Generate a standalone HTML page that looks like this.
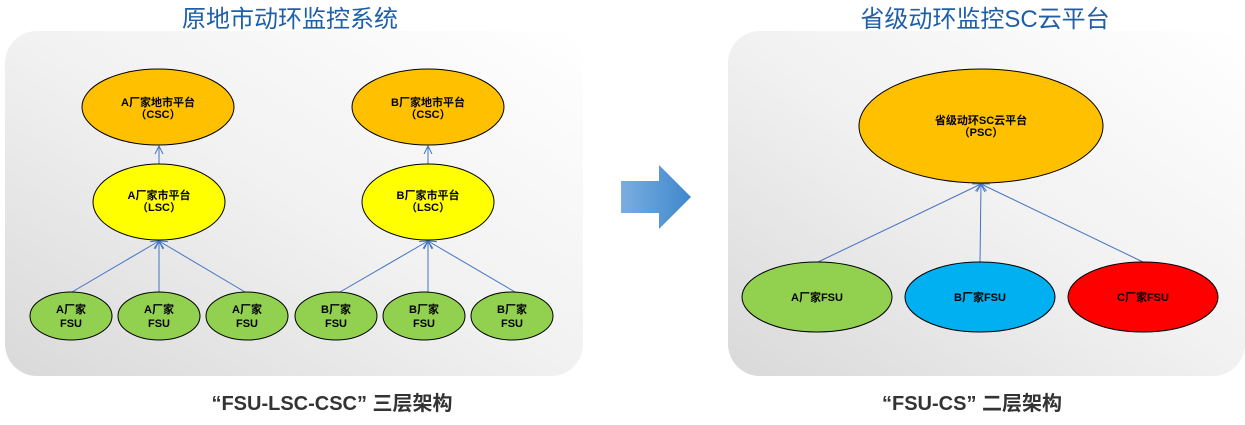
<!DOCTYPE html>
<html><head><meta charset="utf-8"><style>
body{margin:0;width:1245px;height:420px;background:#fff;overflow:hidden}
svg text{font-family:"Liberation Sans","Noto Sans CJK SC",sans-serif}
</style></head><body>
<svg width="1245" height="420" viewBox="0 0 1245 420" xmlns="http://www.w3.org/2000/svg">
<defs>
<linearGradient id="bg" x1="0" y1="1" x2="1" y2="0">
<stop offset="0" stop-color="#d9d9d9"/><stop offset="0.5" stop-color="#f1f1f1"/><stop offset="1" stop-color="#ffffff"/>
</linearGradient>
<linearGradient id="ar" x1="0" y1="0" x2="1" y2="0">
<stop offset="0" stop-color="#7aaee0"/><stop offset="1" stop-color="#3f87cc"/>
</linearGradient>
<marker id="m" markerWidth="10" markerHeight="10" refX="9" refY="5" orient="auto" markerUnits="userSpaceOnUse">
<path d="M1,1 L9,5 L1,9" fill="none" stroke="#4472c4" stroke-width="1"/>
</marker>
</defs>
<rect x="5" y="31" width="578" height="345" rx="32" fill="url(#bg)"/>
<rect x="728" y="31" width="517" height="345" rx="32" fill="url(#bg)"/>
<text x="290" y="27" font-size="24" fill="#1f5fa8" text-anchor="middle">原地市动环监控系统</text>
<text x="985" y="27" font-size="24" fill="#1f5fa8" text-anchor="middle">省级动环监控SC云平台</text>
<g stroke="#4472c4" stroke-width="1" marker-end="url(#m)">
<line x1="159" y1="164" x2="159" y2="146"/>
<line x1="428" y1="164" x2="428" y2="146"/>
<line x1="72" y1="292" x2="159" y2="241"/>
<line x1="159" y1="292" x2="159" y2="241"/>
<line x1="245" y1="292" x2="159" y2="241"/>
<line x1="340" y1="292" x2="428" y2="241"/>
<line x1="428" y1="292" x2="428" y2="241"/>
<line x1="515" y1="292" x2="428" y2="241"/>
<line x1="818" y1="262" x2="981" y2="184"/>
<line x1="980" y1="262" x2="981" y2="184"/>
<line x1="1143" y1="262" x2="981" y2="184"/>
</g>
<g stroke="#000" stroke-width="1">
<ellipse cx="158" cy="107" rx="76" ry="38" fill="#ffc000"/>
<ellipse cx="428" cy="107" rx="76" ry="38" fill="#ffc000"/>
<ellipse cx="159" cy="202" rx="66" ry="38" fill="#ffff00"/>
<ellipse cx="428" cy="202" rx="66" ry="38" fill="#ffff00"/>
<ellipse cx="71" cy="316" rx="41" ry="24" fill="#92d050"/>
<ellipse cx="159" cy="316" rx="41" ry="24" fill="#92d050"/>
<ellipse cx="247" cy="316" rx="41" ry="24" fill="#92d050"/>
<ellipse cx="336" cy="316" rx="41" ry="24" fill="#92d050"/>
<ellipse cx="424" cy="316" rx="41" ry="24" fill="#92d050"/>
<ellipse cx="512" cy="316" rx="41" ry="24" fill="#92d050"/>
<ellipse cx="981" cy="126" rx="122" ry="57" fill="#ffc000"/>
<ellipse cx="817" cy="297" rx="75" ry="35" fill="#92d050"/>
<ellipse cx="980" cy="297" rx="75" ry="35" fill="#00b0f0"/>
<ellipse cx="1143" cy="297" rx="75" ry="35" fill="#ff0000"/>
</g>
<g font-size="11" font-weight="bold" fill="#000" text-anchor="middle">
<text x="158" y="106">A厂家地市平台</text><text x="158" y="118">（CSC）</text>
<text x="428" y="106">B厂家地市平台</text><text x="428" y="118">（CSC）</text>
<text x="159" y="199">A厂家市平台</text><text x="159" y="211">（LSC）</text>
<text x="428" y="199">B厂家市平台</text><text x="428" y="211">（LSC）</text>
<text x="71" y="313">A厂家</text><text x="71" y="327">FSU</text>
<text x="159" y="313">A厂家</text><text x="159" y="327">FSU</text>
<text x="247" y="313">A厂家</text><text x="247" y="327">FSU</text>
<text x="336" y="313">B厂家</text><text x="336" y="327">FSU</text>
<text x="424" y="313">B厂家</text><text x="424" y="327">FSU</text>
<text x="512" y="313">B厂家</text><text x="512" y="327">FSU</text>
<text x="981" y="124">省级动环SC云平台</text><text x="981" y="136">（PSC）</text>
<text x="817" y="301">A厂家FSU</text>
<text x="980" y="301">B厂家FSU</text>
<text x="1143" y="301">C厂家FSU</text>
</g>
<path d="M621,181 H659 V165 L691,197 L659,229 V213 H621 Z" fill="url(#ar)"/>
<g font-size="20" font-weight="bold" fill="#333" text-anchor="middle">
<text x="332" y="410">“FSU-LSC-CSC” 三层架构</text>
<text x="972" y="410">“FSU-CS” 二层架构</text>
</g>
</svg>
</body></html>
